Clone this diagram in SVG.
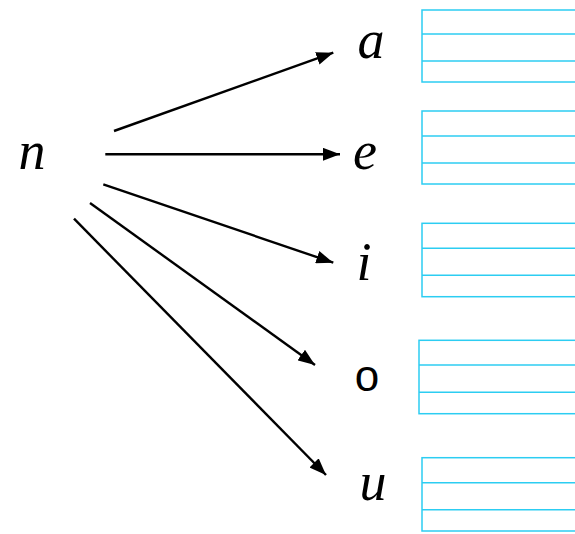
<svg xmlns="http://www.w3.org/2000/svg" width="575" height="534" viewBox="0 0 575 534">
<style>
.cur{font-family:"Liberation Serif","DejaVu Serif",serif;font-style:italic;font-size:54px;fill:#000;text-anchor:middle}
.pl{font-family:"Liberation Sans","DejaVu Sans",sans-serif;font-size:44px;fill:#000;text-anchor:middle}
.box rect,.box line{fill:none;stroke:#2ccdf2;stroke-width:1.5}
.conn line{stroke:#000;stroke-width:2.4}
</style>
<defs>
<marker id="ah" viewBox="0 0 17 13" refX="17" refY="6.5" markerWidth="17" markerHeight="13" markerUnits="userSpaceOnUse" orient="auto">
<path d="M0,0 L17,6.5 L0,13 Z" fill="#000"/>
</marker>
</defs>
<rect width="575" height="534" fill="#fff"/>
<g id="node-n"><text class="cur" x="32" y="169">n</text></g>
<g id="node-a"><text class="cur" x="371" y="58">a</text>
<g class="box"><rect x="422" y="10" width="160" height="72"/><line x1="422" y1="34" x2="580" y2="34"/><line x1="422" y1="61" x2="580" y2="61"/></g></g>
<g id="node-e"><text class="cur" x="365" y="169">e</text>
<g class="box"><rect x="422" y="111" width="160" height="73"/><line x1="422" y1="136" x2="580" y2="136"/><line x1="422" y1="163" x2="580" y2="163"/></g></g>
<g id="node-i"><text class="cur" x="364" y="280">i</text>
<g class="box"><rect x="422" y="223.3" width="160" height="73.4"/><line x1="422" y1="248.3" x2="580" y2="248.3"/><line x1="422" y1="275.3" x2="580" y2="275.3"/></g></g>
<g id="node-o"><text class="pl" x="367" y="391">o</text>
<g class="box"><rect x="419" y="340.3" width="160" height="73.4"/><line x1="419" y1="365" x2="580" y2="365"/><line x1="419" y1="392.3" x2="580" y2="392.3"/></g></g>
<g id="node-u"><text class="cur" x="373" y="500">u</text>
<g class="box"><rect x="422" y="457.7" width="160" height="73.3"/><line x1="422" y1="482.7" x2="580" y2="482.7"/><line x1="422" y1="509.7" x2="580" y2="509.7"/></g></g>
<g id="connectors" class="conn">
<line x1="114" y1="131" x2="333.3" y2="52.7" marker-end="url(#ah)"/>
<line x1="105.3" y1="154.3" x2="340" y2="154.3" marker-end="url(#ah)"/>
<line x1="103.3" y1="184.3" x2="333.3" y2="262.7" marker-end="url(#ah)"/>
<line x1="90" y1="203" x2="315" y2="365" marker-end="url(#ah)"/>
<line x1="74" y1="218.7" x2="326" y2="475" marker-end="url(#ah)"/>
</g>
</svg>
